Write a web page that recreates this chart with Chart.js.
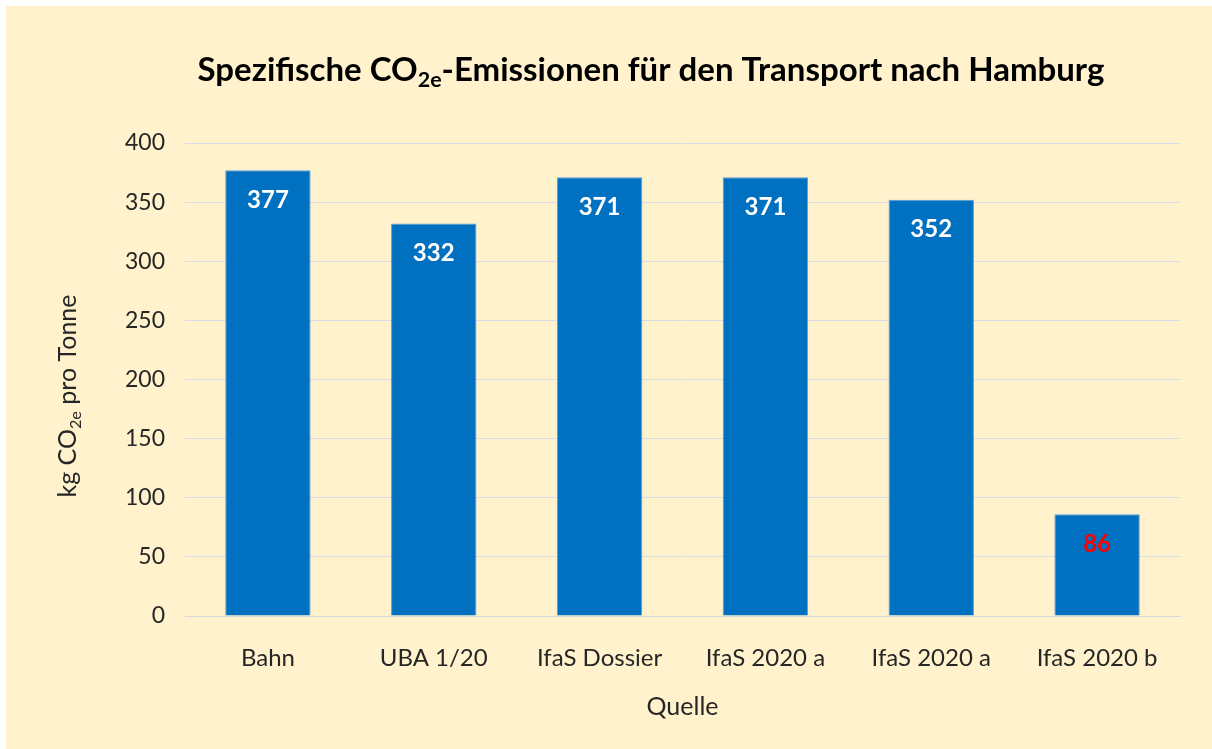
<!DOCTYPE html>
<html>
<head>
<meta charset="utf-8">
<script src="https://cdn.jsdelivr.net/npm/chart.js@4"></script>
<style>
  body { margin: 0; background: #ffffff; }
  #wrap { width: 1212px; height: 749px; }
</style>
</head>
<body>
<div id="wrap"><canvas id="myChart" width="1212" height="749"></canvas></div>
<script>
const categories = ["Bahn", "UBA 1/20", "IfaS Dossier", "IfaS 2020 a", "IfaS 2020 a", "IfaS 2020 b"];
const emissions = [377, 332, 371, 371, 352, 86];
const labelColors = ["#ffffff", "#ffffff", "#ffffff", "#ffffff", "#ffffff", "#ff0000"];
const yTicks = [0, 50, 100, 150, 200, 250, 300, 350, 400];

const FONT = "Lato, 'Open Sans', sans-serif";

// draws text pieces, some of them as subscript
function drawParts(ctx, parts, x, y, size, weight) {
  let widths = parts.map((p) => {
    ctx.font = `${weight} ${p.sub ? size * 0.65 : size}px ${FONT}`;
    return ctx.measureText(p.t).width;
  });
  let total = widths.reduce((s, w) => s + w, 0);
  let cx = x - total / 2;
  parts.forEach((p, i) => {
    ctx.font = `${weight} ${p.sub ? size * 0.65 : size}px ${FONT}`;
    ctx.fillText(p.t, cx, p.sub ? y + size * 0.3 : y);
    cx += widths[i];
  });
}

const decor = {
  id: "decor",
  beforeDraw(chart) {
    const ctx = chart.ctx;
    ctx.save();
    ctx.fillStyle = "#fff2cc";
    ctx.fillRect(6, 6, chart.width - 6, chart.height - 6);
    ctx.restore();
  },
  afterDraw(chart) {
    const ctx = chart.ctx;
    ctx.save();
    ctx.fillStyle = "#000000";
    ctx.textBaseline = "middle";
    ctx.textAlign = "left";
    drawParts(ctx, [
      { t: "Spezifische CO" },
      { t: "2e", sub: true },
      { t: "-Emissionen für den Transport nach Hamburg" },
    ], 651, 70, 33, "bold");

    ctx.translate(68, 396);
    ctx.rotate(-Math.PI / 2);
    ctx.fillStyle = "#262626";
    drawParts(ctx, [
      { t: "kg CO" },
      { t: "2e", sub: true },
      { t: " pro Tonne" },
    ], 0, 0, 25, "normal");
    ctx.restore();

    // value labels inside the bar tops
    const meta = chart.getDatasetMeta(0);
    ctx.save();
    ctx.font = `bold 24px ${FONT}`;
    ctx.textAlign = "center";
    ctx.textBaseline = "middle";
    meta.data.forEach((bar, i) => {
      ctx.fillStyle = labelColors[i];
      ctx.fillText(String(emissions[i]), bar.x, bar.y + 30);
    });
    ctx.restore();
  },
};

let chart = new Chart("myChart", {
  type: "bar",
  data: {
    labels: categories,
    datasets: [
      {
        label: "kg CO2e pro Tonne",
        data: emissions,
        backgroundColor: "#0070c0",
        borderColor: "#5b9bd5",
        borderWidth: 1,
        barPercentage: 0.515,
        categoryPercentage: 1,
      },
    ],
  },
  options: {
    responsive: false,
    animation: false,
    layout: {
      padding: { left: 90, right: 32, top: 143, bottom: 27 },
    },
    plugins: {
      legend: { display: false },
      title: { display: false },
      tooltip: { enabled: false },
    },
    scales: {
      x: {
        grid: { display: false },
        border: { color: "#d9d9d9" },
        ticks: {
          color: "#262626",
          font: { family: FONT, size: 24 },
          padding: 20,
        },
        title: {
          display: true,
          text: "Quelle",
          color: "#262626",
          font: { family: FONT, size: 25 },
          padding: 0,
        },
        afterFit(scale) {
          scale.height = 106;
        },
      },
      y: {
        min: 0,
        max: 400,
        afterBuildTicks(scale) {
          scale.ticks = yTicks.map((v) => ({ value: v }));
        },
        grid: { color: "#d9dce6", drawTicks: false },
        border: { display: false },
        ticks: {
          color: "#262626",
          font: { family: FONT, size: 23 },
          padding: 20,
        },
        afterFit(scale) {
          scale.width = 95;
        },
      },
    },
  },
  plugins: [decor],
});
</script>
</body>
</html>
